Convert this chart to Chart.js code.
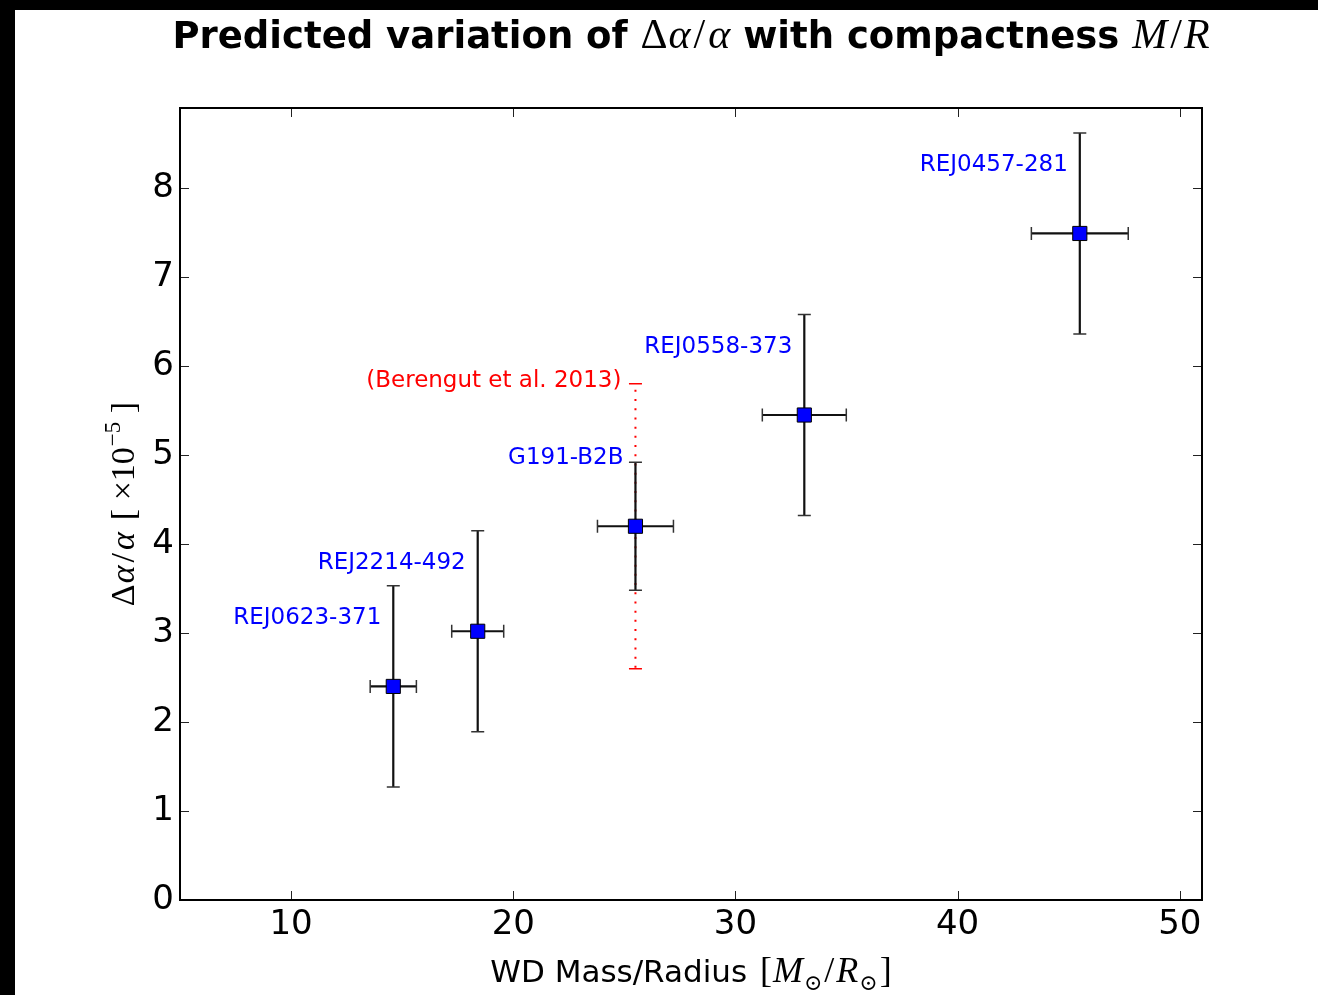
<!DOCTYPE html>
<html>
<head>
<meta charset="utf-8">
<title>Δα/α vs compactness</title>
<script src="https://cdn.jsdelivr.net/npm/chart.js@4.4.0/dist/chart.umd.min.js"></script>
<style>
  html, body { margin: 0; padding: 0; background: #000; }
  #wrap { position: absolute; left: 15px; top: 10px; width: 1303px; height: 985px; background: #fff; }
  canvas { display: block; }
</style>
</head>
<body>
<div id="wrap"><canvas id="chart" width="1303" height="985"></canvas></div>
<script>
// White dwarf measurements: M/R (solar units) and delta alpha / alpha (x1e-5)
const stars = ['REJ0623-371', 'REJ2214-492', 'G191-B2B', 'REJ0558-373', 'REJ0457-281'];
const massRadius = [14.6, 18.4, 25.5, 33.1, 45.5];
const massRadiusErr = [1.04, 1.17, 1.71, 1.89, 2.18];
const deltaAlpha = [2.40, 3.02, 4.20, 5.45, 7.49];
const deltaAlphaErr = [1.13, 1.13, 0.72, 1.13, 1.13];

// Earlier G191-B2B value
const berengutLabel = '(Berengut et al. 2013)';
const berengutX = 25.5;
const berengutY = 4.2;
const berengutErr = 1.6;

const xTicks = [10, 20, 30, 40, 50];
const yTicks = [0, 1, 2, 3, 4, 5, 6, 7, 8];

const SANS = '"DejaVu Sans", sans-serif';
const SERIF = '"Liberation Serif", "DejaVu Serif", serif';

// Draw a list of text runs with different fonts on one baseline, centred on cx
function drawRuns(ctx, runs, cx, baseline) {
    let total = 0;
    runs.forEach(r => {
        ctx.font = r.font;
        r.w = ctx.measureText(r.text).width;
        total += r.w + (r.gap || 0);
    });
    let x = cx - total / 2;
    ctx.textAlign = 'left';
    ctx.textBaseline = 'alphabetic';
    runs.forEach(r => {
        ctx.font = r.font;
        ctx.fillText(r.text, x, baseline + (r.dy || 0));
        x += r.w + (r.gap || 0);
    });
}

// Error bars (drawn under the markers)
const errorBarsPlugin = {
    id: 'errorBars',
    beforeDatasetsDraw(chart) {
        const { ctx, scales: { x, y } } = chart;
        ctx.save();

        // dotted red bar for the earlier result
        const bx = x.getPixelForValue(berengutX);
        const bTop = y.getPixelForValue(berengutY + berengutErr);
        const bBot = y.getPixelForValue(berengutY - berengutErr);
        ctx.strokeStyle = '#ff0000';
        ctx.lineWidth = 2;
        ctx.setLineDash([2, 7.2]);
        ctx.beginPath();
        ctx.moveTo(bx, bTop + 6);
        ctx.lineTo(bx, bBot);
        ctx.stroke();
        ctx.setLineDash([]);
        ctx.lineWidth = 1.5;
        ctx.beginPath();
        ctx.moveTo(bx - 6.5, bTop); ctx.lineTo(bx + 6.5, bTop);
        ctx.moveTo(bx - 6.5, bBot); ctx.lineTo(bx + 6.5, bBot);
        ctx.stroke();

        // black error bars
        massRadius.forEach((mr, i) => {
            const px = x.getPixelForValue(mr);
            const py = y.getPixelForValue(deltaAlpha[i]);
            const x0 = x.getPixelForValue(mr - massRadiusErr[i]);
            const x1 = x.getPixelForValue(mr + massRadiusErr[i]);
            const y0 = y.getPixelForValue(deltaAlpha[i] + deltaAlphaErr[i]);
            const y1 = y.getPixelForValue(deltaAlpha[i] - deltaAlphaErr[i]);
            ctx.strokeStyle = '#111';
            ctx.lineWidth = 2.2;
            ctx.beginPath();
            ctx.moveTo(x0, py); ctx.lineTo(x1, py);
            ctx.moveTo(px, y0); ctx.lineTo(px, y1);
            ctx.stroke();
            ctx.strokeStyle = '#333';
            ctx.lineWidth = 1.5;
            ctx.beginPath();
            ctx.moveTo(x0, py - 6.5); ctx.lineTo(x0, py + 6.5);
            ctx.moveTo(x1, py - 6.5); ctx.lineTo(x1, py + 6.5);
            ctx.moveTo(px - 6.5, y0); ctx.lineTo(px + 6.5, y0);
            ctx.moveTo(px - 6.5, y1); ctx.lineTo(px + 6.5, y1);
            ctx.stroke();
        });
        ctx.restore();
    }
};

// Frame, inward ticks on all sides, star names, title and axis titles
const decorPlugin = {
    id: 'decor',
    afterDraw(chart) {
        const { ctx, chartArea: a, scales: { x, y } } = chart;
        ctx.save();

        // inward tick marks
        ctx.strokeStyle = '#222';
        ctx.lineWidth = 1;
        ctx.beginPath();
        xTicks.forEach(v => {
            const px = Math.round(x.getPixelForValue(v)) + 0.5;
            ctx.moveTo(px, a.bottom); ctx.lineTo(px, a.bottom - 9);
            ctx.moveTo(px, a.top); ctx.lineTo(px, a.top + 9);
        });
        yTicks.forEach(v => {
            const py = Math.round(y.getPixelForValue(v)) + 0.5;
            ctx.moveTo(a.left, py); ctx.lineTo(a.left + 9, py);
            ctx.moveTo(a.right, py); ctx.lineTo(a.right - 9, py);
        });
        ctx.stroke();

        // frame
        ctx.strokeStyle = '#000';
        ctx.lineWidth = 2;
        ctx.strokeRect(a.left, a.top, a.right - a.left, a.bottom - a.top);

        // star names
        ctx.font = '23px ' + SANS;
        ctx.textAlign = 'right';
        ctx.textBaseline = 'middle';
        ctx.fillStyle = '#0000ff';
        stars.forEach((name, i) => {
            const px = x.getPixelForValue(massRadius[i]);
            const py = y.getPixelForValue(deltaAlpha[i]);
            ctx.fillText(name, px - 12, py - 68);
        });
        ctx.fillStyle = '#ff0000';
        ctx.fillText(berengutLabel,
            x.getPixelForValue(berengutX) - 14,
            y.getPixelForValue(berengutY + berengutErr) - 3);

        ctx.fillStyle = '#000';
        const cx = (a.left + a.right) / 2;

        // title
        const bold = 'bold 37px ' + SANS;
        const m = '42px ' + SERIF;
        const mi = 'italic 42px ' + SERIF;
        drawRuns(ctx, [
            { text: 'Predicted variation of ', font: bold },
            { text: 'Δ', font: m, gap: 1 },
            { text: 'α', font: mi, gap: 3 },
            { text: '/', font: m, gap: 3 },
            { text: 'α', font: mi },
            { text: ' with compactness ', font: bold },
            { text: 'M', font: mi, gap: 3 },
            { text: '/', font: m, gap: 2 },
            { text: 'R', font: mi }
        ], cx, 38);

        // x axis title
        const s = '31px ' + SANS;
        const xm = '36px ' + SERIF;
        const xmi = 'italic 36px ' + SERIF;
        const sub = '22px ' + SERIF;
        drawRuns(ctx, [
            { text: 'WD Mass/Radius ', font: s, gap: 3 },
            { text: '[', font: xm, gap: 1 },
            { text: 'M', font: xmi, gap: 1 },
            { text: '⊙', font: sub, dy: 8, gap: 2 },
            { text: '/', font: xm, gap: 2 },
            { text: 'R', font: xmi, gap: 1 },
            { text: '⊙', font: sub, dy: 8, gap: 2 },
            { text: ']', font: xm }
        ], cx, 972);

        // y axis title, rotated
        ctx.save();
        ctx.translate(119, (a.top + a.bottom) / 2);
        ctx.rotate(-Math.PI / 2);
        const ym = '34px ' + SERIF;
        const ymi = 'italic 34px ' + SERIF;
        drawRuns(ctx, [
            { text: 'Δ', font: ym, gap: 1 },
            { text: 'α', font: ymi, gap: 3 },
            { text: '/', font: ym, gap: 3 },
            { text: 'α', font: ymi, gap: 12 },
            { text: '[ ×10', font: ym, gap: 1 },
            { text: '−5', font: '23px ' + SERIF, dy: -14 },
            { text: ' ]', font: ym }
        ], 0, 0);
        ctx.restore();

        ctx.restore();
    }
};

new Chart(document.getElementById('chart'), {
    type: 'scatter',
    data: {
        datasets: [{
            data: massRadius.map((mr, i) => ({ x: mr, y: deltaAlpha[i] })),
            pointStyle: 'rect',
            pointRadius: 10,
            backgroundColor: '#0000ff',
            borderColor: '#000',
            borderWidth: 1
        }]
    },
    options: {
        responsive: false,
        animation: false,
        layout: { padding: { left: 0, top: 98, right: 116, bottom: 0 } },
        plugins: {
            legend: { display: false },
            tooltip: { enabled: false }
        },
        scales: {
            x: {
                type: 'linear',
                min: 5,
                max: 51,
                afterBuildTicks: scale => { scale.ticks = xTicks.map(v => ({ value: v })); },
                afterFit: scale => { scale.height = 95; },
                grid: { display: false, drawTicks: false },
                border: { display: false },
                ticks: {
                    font: { family: 'DejaVu Sans', size: 34 },
                    color: '#000',
                    padding: 5,
                    maxRotation: 0
                }
            },
            y: {
                type: 'linear',
                min: 0,
                max: 8.9,
                afterBuildTicks: scale => { scale.ticks = yTicks.map(v => ({ value: v })); },
                afterFit: scale => { scale.width = 165; },
                grid: { display: false, drawTicks: false },
                border: { display: false },
                ticks: {
                    font: { family: 'DejaVu Sans', size: 34 },
                    color: '#000',
                    padding: 6
                }
            }
        }
    },
    plugins: [errorBarsPlugin, decorPlugin]
});
</script>
</body>
</html>
